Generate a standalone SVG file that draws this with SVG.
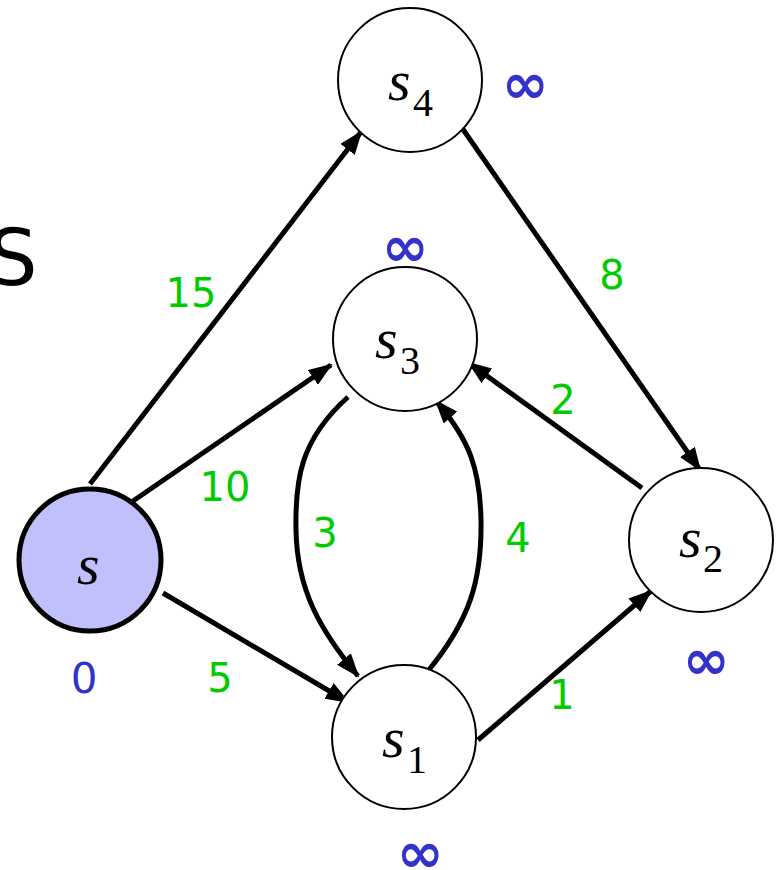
<svg xmlns="http://www.w3.org/2000/svg" width="782" height="870" viewBox="0 0 782 870">
<style>
.node{fill:#fff;stroke:#000;stroke-width:2}
.src{fill:#c0c0fc;stroke:#000;stroke-width:5}
.lbl{font-family:"Liberation Serif","Times New Roman",serif;font-style:italic;font-size:58px;fill:#000}
.sub{font-family:"Liberation Serif","Times New Roman",serif;font-style:normal;font-size:40px;fill:#000}
.w{font-family:"DejaVu Sans",sans-serif;font-size:40px;fill:#00cc00;text-anchor:middle}
.d{font-family:"DejaVu Sans",sans-serif;font-size:42px;fill:#3333cc;text-anchor:middle}
.inf{font-family:"DejaVu Sans",sans-serif;font-weight:bold;font-size:56px;fill:#3333cc;text-anchor:middle}
.e{fill:none;stroke:#000;stroke-width:5;marker-end:url(#ah)}
</style>
<defs>
<marker id="ah" markerUnits="userSpaceOnUse" markerWidth="24" markerHeight="18" refX="22" refY="9" orient="auto">
<path d="M0,0 L24,9 L0,18 Z" fill="#000"/>
</marker>
</defs>
<text x="-12" y="285" style="font-family:'DejaVu Sans',sans-serif;font-size:78px;fill:#000">S</text>
<g id="edges">
<path class="e" d="M90,484 L361,132"/>
<path class="e" d="M133,501 L331,365"/>
<path class="e" d="M163,593 L348,702"/>
<path class="e" d="M462,128 L700,470"/>
<path class="e" d="M642,488 L469,363"/>
<path class="e" d="M478,740 L651,591"/>
<path class="e" d="M348,397 C300,440 295,480 296,530 C297,590 320,630 358,676"/>
<path class="e" d="M428,671 C470,620 482,580 481,520 C480,470 470,440 436,401"/>
</g>
<g id="s4"><circle class="node" cx="410" cy="80" r="72"/><text class="lbl" x="388" y="100">s</text><text class="sub" x="413" y="116">4</text></g>
<g id="s3"><circle class="node" cx="405" cy="339" r="72"/><text class="lbl" x="375" y="358">s</text><text class="sub" x="400" y="374">3</text></g>
<g id="s"><circle class="src" cx="90" cy="560" r="71"/><text class="lbl" x="77" y="584">s</text></g>
<g id="s2"><circle class="node" cx="701" cy="540" r="72"/><text class="lbl" x="679" y="557">s</text><text class="sub" x="703" y="572">2</text></g>
<g id="s1"><circle class="node" cx="404" cy="737" r="72"/><text class="lbl" x="382" y="757">s</text><text class="sub" x="407" y="773">1</text></g>
<g id="labels">
<text class="w" x="191" y="307">15</text>
<text class="w" x="225" y="501">10</text>
<text class="w" x="220" y="692">5</text>
<text class="w" x="325" y="547">3</text>
<text class="w" x="518" y="552">4</text>
<text class="w" x="563" y="414">2</text>
<text class="w" x="612" y="289">8</text>
<text class="w" x="562" y="709">1</text>
<text class="d" x="84" y="693">0</text>
<text class="inf" x="525" y="103">∞</text>
<text class="inf" x="405" y="266">∞</text>
<text class="inf" x="706" y="679">∞</text>
<text class="inf" x="420" y="872">∞</text>
</g>
</svg>
